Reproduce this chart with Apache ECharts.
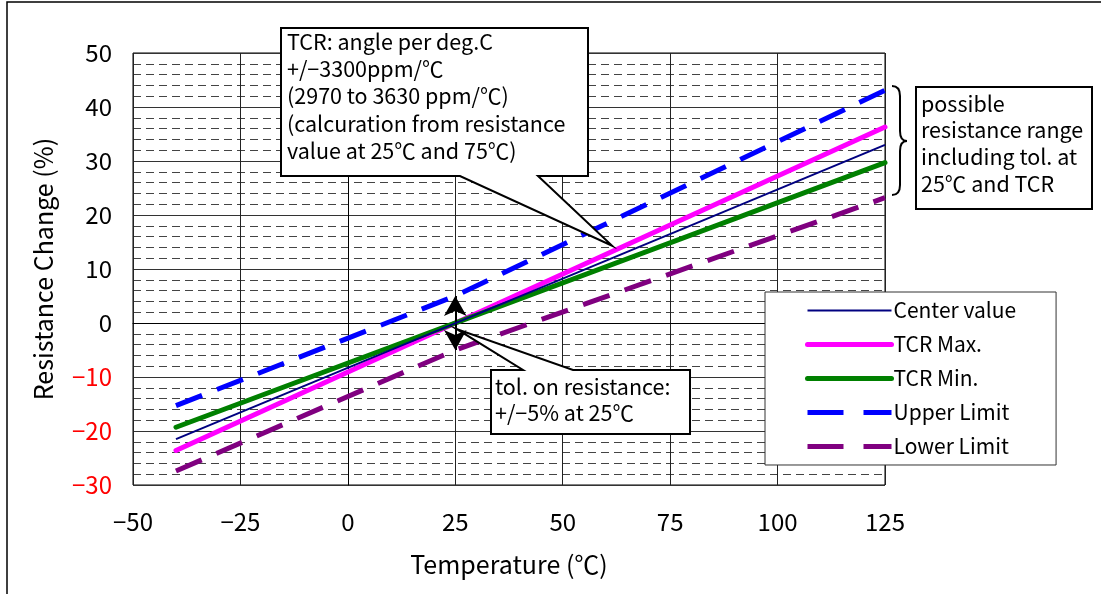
<!DOCTYPE html>
<html>
<head>
<meta charset="utf-8">
<script src="https://cdn.jsdelivr.net/npm/echarts@6/dist/echarts.min.js"></script>
<style>
html,body{margin:0;padding:0;background:#fff;}
#c{width:1101px;height:594px;}
</style>
</head>
<body>
<div id="c"></div>
<script>
// ---- data ----
const temps = [-40, 125];
const centerVals = [-21.5, 33.0];
const tcrMaxVals = [-23.6, 36.3];
const tcrMinVals = [-19.3, 29.7];
const limitTemps = [-40, 25, 125];
const upperVals = [-15.3, 5.0, 43.1];
const lowerVals = [-27.4, -5.0, 23.2];
const tolArrow = [[25, 5], [25, -5]];
const seriesNames = ['Center value', 'TCR Max.', 'TCR Min.', 'Upper Limit', 'Lower Limit'];
const calloutTCR = ['TCR: angle per deg.C', '+/\u22123300ppm/\u2103', '(2970 to 3630 ppm/\u2103)', '(calcuration from resistance', 'value at 25\u2103 and 75\u2103)'];
const calloutTol = ['tol. on resistance:', '+/\u22125% at 25\u2103'];
const calloutRange = ['possible', 'resistance range', 'including tol. at', '25\u2103 and TCR'];

const FONT = '"Noto Sans CJK JP", "Noto Sans", sans-serif';
const pairs = (xs, ys) => xs.map((x, i) => [x, ys[i]]);
const minusFmt = v => String(v).replace('-', '\u2212');

const chart = echarts.init(document.getElementById('c'), null, {renderer: 'canvas'});

const option = {
  backgroundColor: '#fff',
  animation: false,
  textStyle: {fontFamily: FONT},
  grid: {left: 133, right: 216, top: 53, bottom: 109, show: true, borderColor: '#000', borderWidth: 1, backgroundColor: 'transparent'},
  xAxis: {
    type: 'value', min: -50, max: 125, interval: 25,
    name: 'Temperature (\u2103)', nameLocation: 'middle', nameGap: 67,
    nameTextStyle: {fontSize: 25, color: '#000', fontFamily: FONT},
    axisLine: {show: true, lineStyle: {color: '#000', width: 1}},
    axisTick: {show: false},
    axisLabel: {fontSize: 24, color: '#000', margin: 25, fontFamily: FONT, formatter: minusFmt},
    splitLine: {show: true, lineStyle: {color: '#222', width: 1}}
  },
  yAxis: {
    type: 'value', min: -30, max: 50, interval: 10,
    name: 'Resistance Change (%)', nameLocation: 'middle', nameGap: 77,
    nameTextStyle: {fontSize: 25, color: '#000', fontFamily: FONT},
    axisLine: {show: true, lineStyle: {color: '#000', width: 1}},
    axisTick: {show: false},
    axisLabel: {fontSize: 24, margin: 21, fontFamily: FONT, formatter: minusFmt,
      color: v => (Number(v) < 0 ? '#ff0000' : '#000')},
    splitLine: {show: true, lineStyle: {color: '#333', width: 1}},
    minorTick: {show: false, splitNumber: 5},
    minorSplitLine: {show: true, lineStyle: {color: '#444', width: 1, type: [8, 5]}}
  },
  legend: {
    orient: 'vertical', left: 765, top: 292,
    backgroundColor: '#fff', borderColor: '#333', borderWidth: 1,
    padding: [8, 40, 8, 40], itemWidth: 84, itemHeight: 20, itemGap: 13,
    itemStyle: {opacity: 0},
    textStyle: {fontSize: 21, color: '#000', fontFamily: FONT, padding: [0, 0, 0, -3]},
    data: [
      {name: seriesNames[0], itemStyle: {opacity: 0}, lineStyle: {width: 2}},
      {name: seriesNames[1], itemStyle: {opacity: 0}, lineStyle: {width: 5, cap: 'round'}},
      {name: seriesNames[2], itemStyle: {opacity: 0}, lineStyle: {width: 5, cap: 'round'}},
      {name: seriesNames[3], itemStyle: {opacity: 0}, lineStyle: {width: 5, type: [36, 20]}},
      {name: seriesNames[4], itemStyle: {opacity: 0}, lineStyle: {width: 5, type: [36, 20]}}
    ]
  },
  series: [
    {name: seriesNames[0], type: 'line', data: pairs(temps, centerVals), symbol: 'none', color: '#000080',
      lineStyle: {width: 2, color: '#000080'}, z: 6,
      markLine: {silent: true, symbol: ['arrow', 'arrow'], symbolSize: [17, 20], label: {show: false},
        lineStyle: {color: '#000', width: 2, type: 'solid'},
        data: [[{coord: tolArrow[0]}, {coord: tolArrow[1]}]]}},
    {name: seriesNames[1], type: 'line', data: pairs(temps, tcrMaxVals), symbol: 'none', color: '#ff00ff',
      lineStyle: {width: 5, color: '#ff00ff', cap: 'round'}, z: 3},
    {name: seriesNames[2], type: 'line', data: pairs(temps, tcrMinVals), symbol: 'none', color: '#008000',
      lineStyle: {width: 5, color: '#008000', cap: 'round'}, z: 4},
    {name: seriesNames[3], type: 'line', data: pairs(limitTemps, upperVals), symbol: 'none', color: '#0000ff',
      lineStyle: {width: 5, color: '#0000ff', type: [28, 16]}, z: 2},
    {name: seriesNames[4], type: 'line', data: pairs(limitTemps, lowerVals), symbol: 'none', color: '#800080',
      lineStyle: {width: 5, color: '#800080', type: [28, 16]}, z: 2}
  ]
};
chart.setOption(option);

// callout graphics (pointer tips anchored to data coordinates)
const tip1 = chart.convertToPixel({gridIndex: 0}, [61.5, 14.3]);
const tip2 = chart.convertToPixel({gridIndex: 0}, [25.3, -1.1]);
const txt = (lines, x, y, lh) => ({
  type: 'text', x: x, y: y, z: 101,
  style: {text: lines.join('\n'), fill: '#000', font: '21.5px ' + FONT, lineHeight: lh, verticalAlign: 'top', align: 'left'}
});
const braceStyle = {fill: 'none', stroke: '#000', lineWidth: 2};
const curve = (x1, y1, cx, cy, x2, y2) => ({type: 'bezierCurve', z: 100, shape: {x1: x1, y1: y1, cpx1: cx, cpy1: cy, x2: x2, y2: y2}, style: braceStyle});
const seg = (x1, y1, x2, y2) => ({type: 'line', z: 100, shape: {x1: x1, y1: y1, x2: x2, y2: y2}, style: braceStyle});
chart.setOption({
  graphic: [
    {type: 'rect', shape: {x: 7, y: 2, width: 1300, height: 800}, style: {fill: 'none', stroke: '#000', lineWidth: 1.5}, z: 0, silent: true},
    {type: 'polygon', z: 100, shape: {points: [[281, 28], [588, 28], [588, 176], [538, 176], tip1, [460, 176], [281, 176]]},
      style: {fill: '#fff', stroke: '#000', lineWidth: 2}},
    txt(calloutTCR, 287, 28, 27.3),
    {type: 'polygon', z: 100, shape: {points: [[491, 370], [523, 370], tip2, [573, 370], [690, 370], [690, 434], [491, 434]]},
      style: {fill: '#fff', stroke: '#000', lineWidth: 2}},
    txt(calloutTol, 495, 373, 26.7),
    {type: 'rect', z: 100, shape: {x: 916, y: 87, width: 176, height: 122}, style: {fill: '#fff', stroke: '#000', lineWidth: 2}},
    txt(calloutRange, 921, 90, 26.7),
    curve(892, 86, 900, 86, 900, 96),
    seg(900, 96, 900, 131),
    curve(900, 131, 900, 141, 907, 141),
    curve(907, 141, 900, 141, 900, 151),
    seg(900, 151, 900, 185),
    curve(900, 185, 900, 195, 892, 195)
  ]
});
</script>
</body>
</html>
